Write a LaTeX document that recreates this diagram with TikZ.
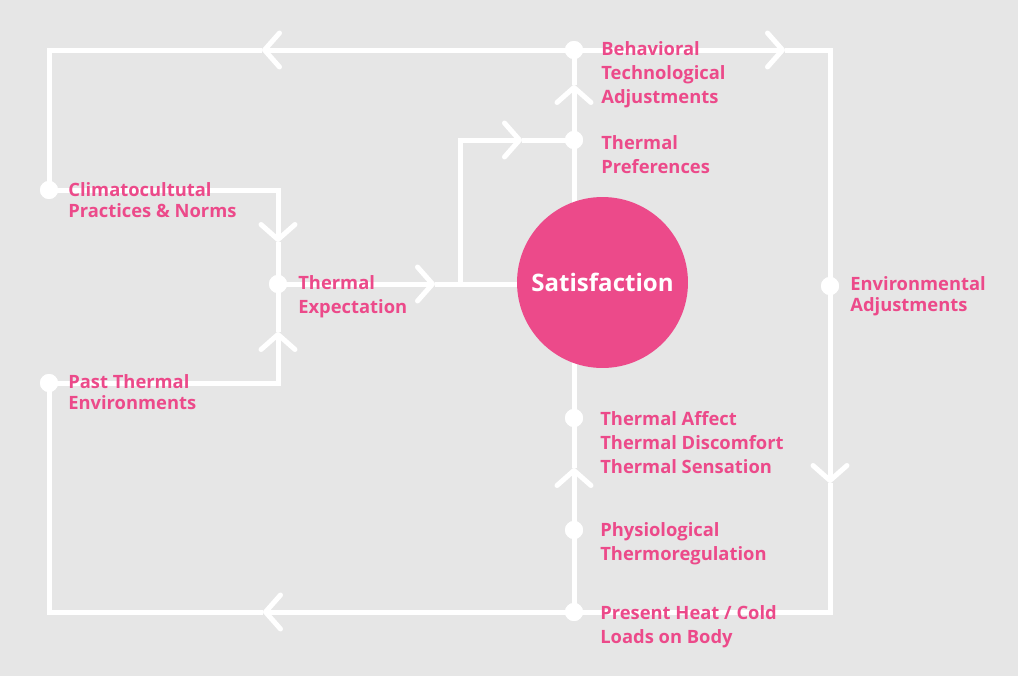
\documentclass[tikz,border=0pt]{standalone}
\usepackage{fontspec}
\setmainfont{Open Sans}
\usetikzlibrary{arrows.meta}
\definecolor{bgGrey}{HTML}{E6E6E6}
\definecolor{satPink}{HTML}{EC4A8A}
\tikzset{
	flow/.style={draw=white, line width=0.1cm, line join=miter},
	tip/.style={-{Straight Barb[length=0.3cm,width=0.68cm,round]}},
	dot/.style={circle, fill=white, inner sep=0pt, minimum size=0.36cm},
	lbl/.style={anchor=north west, inner sep=0pt, align=left, text=satPink,
		font=\fontsize{10.45}{13.6}\selectfont\bfseries},
	lbltight/.style={lbl, font=\fontsize{10.45}{12}\selectfont\bfseries},
}
\begin{document}
\begin{tikzpicture}[x=0.02cm, y=-0.02cm]
		%%%%% BACKGROUND %%%%%
		\fill[bgGrey] (0, 0) rectangle (1018, 676);
		\useasboundingbox (0, 0) rectangle (1018, 676);
		
		%%%%% CORNERS / BENDS %%%%%
		\coordinate (topL) at (49, 50);
		\coordinate (topR) at (830, 50);
		\coordinate (botR) at (830, 612);
		\coordinate (botL) at (49, 612);
		\coordinate (climBend) at (278, 190);
		\coordinate (pastBend) at (278, 383);
		\coordinate (fork) at (460, 284);
		\coordinate (forkTop) at (460, 140);
		
		%%%%% ARROW TIPS %%%%%
		\coordinate (tipTopL) at (262, 50);
		\coordinate (tipTopR) at (785, 50);
		\coordinate (tipRight) at (830, 483);
		\coordinate (tipBotL) at (263, 612);
		\coordinate (tipClim) at (278, 242);
		\coordinate (tipPast) at (278, 332);
		\coordinate (tipExpt) at (435, 284);
		\coordinate (tipPref) at (522, 140);
		\coordinate (tipBehav) at (574, 85);
		\coordinate (tipAff) at (574, 468);
		
		%%%%% DOTS %%%%%
		\node[dot] (behav) at (574, 50) {};
		\node[dot] (pref) at (574, 140) {};
		\node[dot] (clim) at (49, 190) {};
		\node[dot] (past) at (49, 383) {};
		\node[dot] (expt) at (278, 284) {};
		\node[dot] (env) at (830, 286) {};
		\node[dot] (aff) at (574, 418) {};
		\node[dot] (phys) at (574, 530) {};
		\node[dot] (load) at (574, 612) {};
		
		%%%%% LINES %%%%%
		\draw[flow, tip] (behav.center) -- (tipTopL);
		\draw[flow] (tipTopL) -- (topL) -- (clim.center);
		\draw[flow, tip] (behav.center) -- (tipTopR);
		\draw[flow] (tipTopR) -- (topR) -- (env.center);
		\draw[flow, tip] (env.center) -- (tipRight);
		\draw[flow] (tipRight) -- (botR) -- (load.center);
		\draw[flow, tip] (load.center) -- (tipBotL);
		\draw[flow] (tipBotL) -- (botL) -- (past.center);
		
		\draw[flow, tip] (clim.center) -- (climBend) -- (tipClim);
		\draw[flow] (tipClim) -- (expt.center);
		\draw[flow, tip] (past.center) -- (pastBend) -- (tipPast);
		\draw[flow] (tipPast) -- (expt.center);
		\draw[flow, tip] (expt.center) -- (tipExpt);
		\draw[flow] (tipExpt) -- (602, 284);
		\draw[flow, tip] (fork) -- (forkTop) -- (tipPref);
		\draw[flow] (tipPref) -- (pref.center);
		
		\draw[flow, tip] (pref.center) -- (tipBehav);
		\draw[flow] (tipBehav) -- (behav.center);
		\draw[flow] (pref.center) -- (aff.center);
		\draw[flow, tip] (phys.center) -- (tipAff);
		\draw[flow] (tipAff) -- (aff.center);
		\draw[flow] (load.center) -- (phys.center);
		
		% redraw dots over the lines
		\foreach \d in {behav, pref, clim, past, expt, env, aff, phys, load}
			\fill[white] (\d.center) circle (9);
		
		%%%%% CENTRE %%%%%
		\node[circle, fill=satPink, minimum size=3.42cm, inner sep=0pt,
			text=white, font=\fontsize{13.7}{16}\selectfont\bfseries]
			(sat) at (602.5, 282.5) {Satisfaction};
		
		%%%%% LABELS %%%%%
		\node[lbl] (behavTxt) at (601, 41.5) {Behavioral\\Technological\\Adjustments};
		\node[lbl] (prefTxt) at (601, 135.5) {Thermal\\Preferences};
		\node[lbltight] (climTxt) at (68, 182.5) {Climatocultutal\\Practices \& Norms};
		\node[lbltight] (pastTxt) at (68, 374.5) {Past Thermal\\Environments};
		\node[lbl] (exptTxt) at (298, 275.5) {Thermal\\Expectation};
		\node[lbltight] (envTxt) at (850, 276.5) {Environmental\\Adjustments};
		\node[lbl] (affTxt) at (600, 411.5) {Thermal Affect\\Thermal Discomfort\\Thermal Sensation};
		\node[lbl] (physTxt) at (600, 522.5) {Physiological\\Thermoregulation};
		\node[lbl] (loadTxt) at (600, 605.5) {Present Heat / Cold\\Loads on Body};
		
	\end{tikzpicture}
\end{document}
